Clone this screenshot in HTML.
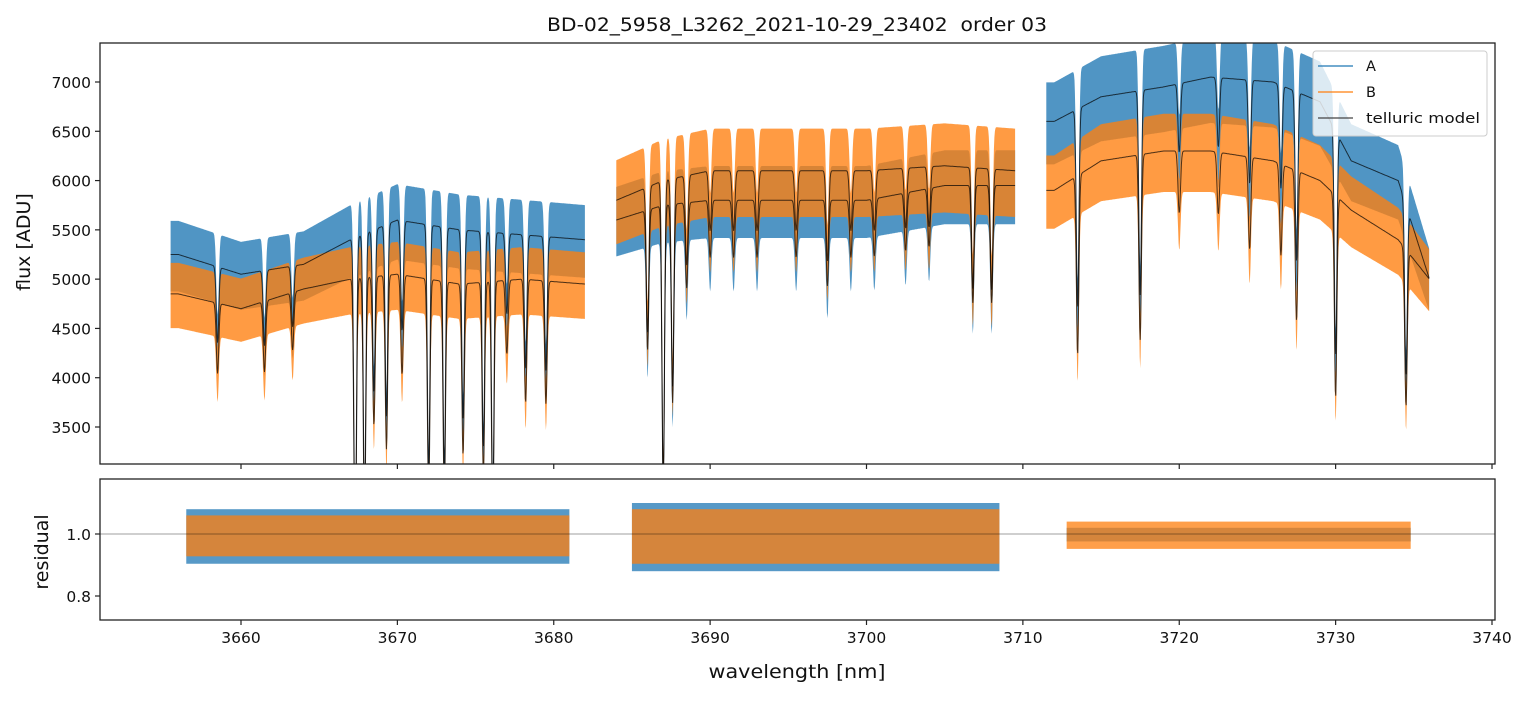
<!DOCTYPE html>
<html><head><meta charset="utf-8"><style>
body{margin:0;background:#fff;}
svg{font-family:"DejaVu Sans","Liberation Sans",sans-serif;}
</style></head><body>
<svg id="c" width="1529" height="696" xmlns="http://www.w3.org/2000/svg"></svg>
<script>
// ---- data ----
const segments = [[3655.5,3682],[3684,3709.5],[3711.5,3736]];
const contWlA = [3655.5,3656,3660,3664,3667,3670,3674,3678,3682, 3684,3687,3690,3695,3700,3705,3709.5, 3711.5,3712,3715,3719,3722,3726,3729,3731,3734,3736];
const contA   = [5250,5250,5050,5150,5400,5600,5500,5450,5400, 5600,5750,5800,5800,5800,5950,5950, 6600,6600,6850,6950,7050,7000,6800,6200,6000,5000];
const contB   = [4850,4850,4700,4900,5000,5050,4950,5000,4950, 5800,6000,6100,6100,6100,6150,6100, 5900,5900,6200,6300,6300,6200,6000,5700,5400,5000];
const lineWl    = [3658.5,3661.5,3663.3,3667.3,3667.9,3668.5,3669.3,3670.3,3672.0,3673.0,3674.2,3675.5,3676.1,3677.0,3678.2,3679.5,
                   3686.0,3687.0,3687.6,3688.5,3690,3691.5,3693,3695.5,3697.5,3699,3700.5,3702.5,3704,3706.8,3708,
                   3713.5,3717.5,3720,3722.5,3724.5,3726.5,3727.5,3730,3734.5];
const lineDepth = [0.15,0.15,0.12,0.6,0.5,0.3,0.35,0.2,0.45,0.45,0.35,0.4,0.5,0.15,0.25,0.25,
                   0.25,0.5,0.35,0.15,0.1,0.1,0.1,0.1,0.15,0.1,0.1,0.1,0.1,0.2,0.2,
                   0.3,0.3,0.1,0.1,0.15,0.15,0.25,0.35,0.3];
const noiseA = [0.065,0.06,0.06];
const noiseB = [0.065,0.07,0.06];
const resSegments = [[3656.5,3681],[3685,3708.5],[3712.8,3734.8]];
const resNoiseA = [0.08,0.1,0.02];
const resNoiseB = [0.06,0.08,0.04];
const xTicks = [3660,3670,3680,3690,3700,3710,3720,3730,3740];
const yTicks = [3500,4000,4500,5000,5500,6000,6500,7000];
const rTicks = [0.8,1.0];

// ---- layout ----
const L=100,R=1495,T1=43,B1=464,T2=479,B2=620;
function X(w){return 241+(w-3660)*(1492-241)/80;}
function Y(v){return 82+(7000-v)*(427-82)/3500;}
function YR(v){return 534+(1.0-v)*(596-534)/0.2;}
const svg=document.getElementById('c');const NS='http://www.w3.org/2000/svg';
function el(t,a,p){const e=document.createElementNS(NS,t);for(const k in a)e.setAttribute(k,a[k]);(p||svg).appendChild(e);return e;}
function interp(w,arr){for(let i=0;i<contWlA.length-1;i++){if(w>=contWlA[i]&&w<=contWlA[i+1]&&contWlA[i+1]>contWlA[i]){const t=(w-contWlA[i])/(contWlA[i+1]-contWlA[i]);return arr[i]+t*(arr[i+1]-arr[i]);}}return arr[arr.length-1];}
function trans(w){let f=1;for(let i=0;i<lineWl.length;i++){const d=(w-lineWl[i])/0.08;f*=1-lineDepth[i]*Math.exp(-0.5*d*d);}return f;}

const defs=el('defs',{});
el('rect',{x:L,y:T1,width:R-L,height:B1-T1},el('clipPath',{id:'cp1'},defs));
el('rect',{x:L,y:T2,width:R-L,height:B2-T2},el('clipPath',{id:'cp2'},defs));

const gTop=el('g',{'clip-path':'url(#cp1)'});

function band(seg,cont,amp,color,name){
  let up=[],lo=[];
  for(let w=seg[0];w<=seg[1]+1e-9;w+=0.03){const c=interp(w,cont),m=c*trans(w);
    up.push(X(w).toFixed(1)+','+Y(m+amp*m).toFixed(1));lo.push(X(w).toFixed(1)+','+Y(m-amp*m*1.1).toFixed(1));}
  const p=el('polygon',{points:up.concat(lo.reverse()).join(' '),fill:color,'fill-opacity':0.78},gTop);
  
}
segments.forEach((s,i)=>band(s,contA,noiseA[i],'#1f77b4','series-a-'+i));
segments.forEach((s,i)=>band(s,contB,noiseB[i],'#ff7f0e','series-b-'+i));
segments.forEach((s,i)=>{[contA,contB].forEach((c,j)=>{let pts=[];for(let w=s[0];w<=s[1]+1e-9;w+=0.03){pts.push(X(w).toFixed(1)+','+Y(interp(w,c)*trans(w)).toFixed(1));}
  const p=el('polyline',{points:pts.join(' '),fill:'none',stroke:'#000','stroke-opacity':0.7,'stroke-width':1},gTop);
  });});

const gBot=el('g',{'clip-path':'url(#cp2)'});

resSegments.forEach((s,i)=>{[[resNoiseA,'#1f77b4'],[resNoiseB,'#ff7f0e']].forEach(([n,col])=>{
  const r=el('rect',{x:X(s[0]),y:YR(1+n[i]),width:X(s[1])-X(s[0]),height:YR(1-n[i]*1.2)-YR(1+n[i]),fill:col,'fill-opacity':0.75},gBot);
  });});
el('line',{x1:L,x2:R,y1:YR(1),y2:YR(1),stroke:'#000','stroke-opacity':0.5,'stroke-width':0.8},gBot);

[[T1,B1],[T2,B2]].forEach(([t,b])=>{const r=el('rect',{x:L,y:t,width:R-L,height:b-t,fill:'none',stroke:'#222','stroke-width':1.3});});
xTicks.forEach(v=>{[B1,B2].forEach(b=>el('line',{x1:X(v),x2:X(v),y1:b,y2:b+5,stroke:'#222','stroke-width':1.2}));
  const t=el('text',{x:X(v),y:B2+23,'font-size':15.5,'text-anchor':'middle',fill:'#111'});t.textContent=v;});
yTicks.forEach(v=>{el('line',{x1:L-5,x2:L,y1:Y(v),y2:Y(v),stroke:'#222','stroke-width':1.2});const t=el('text',{x:L-9,y:Y(v)+6,'font-size':15.5,'text-anchor':'end',fill:'#111'});t.textContent=v;});
rTicks.forEach(v=>{el('line',{x1:L-5,x2:L,y1:YR(v),y2:YR(v),stroke:'#222','stroke-width':1.2});const t=el('text',{x:L-9,y:YR(v)+6,'font-size':15.5,'text-anchor':'end',fill:'#111'});t.textContent=v.toFixed(1);});
</script>
<svg width="1529" height="696" style="position:absolute;left:0;top:0" xmlns="http://www.w3.org/2000/svg" font-family="DejaVu Sans, Liberation Sans, sans-serif">
<text x="797" y="31" font-size="19" text-anchor="middle" fill="#111" textLength="500" lengthAdjust="spacingAndGlyphs" xml:space="preserve">BD-02_5958_L3262_2021-10-29_23402  order 03</text>
<text x="797" y="678" font-size="19" text-anchor="middle" fill="#111" textLength="177" lengthAdjust="spacingAndGlyphs">wavelength [nm]</text>
<text transform="translate(30,242) rotate(-90)" font-size="19" text-anchor="middle" fill="#111">flux [ADU]</text>
<text transform="translate(48,552) rotate(-90)" font-size="19" text-anchor="middle" fill="#111">residual</text>
<g font-size="14.5" fill="#111">
<rect x="1313" y="51" width="174" height="85" rx="3" fill="#fff" fill-opacity="0.8" stroke="#ccc"/>
<line x1="1318" x2="1353" y1="66" y2="66" stroke="#1f77b4" stroke-width="1.3"/><text x="1366" y="71">A</text>
<line x1="1318" x2="1353" y1="92" y2="92" stroke="#ff7f0e" stroke-width="1.3"/><text x="1366" y="97">B</text>
<line x1="1318" x2="1353" y1="118" y2="118" stroke="#444" stroke-width="1.3"/><text x="1366" y="123" textLength="114" lengthAdjust="spacingAndGlyphs">telluric model</text>
</g>
</svg>
</body></html>
